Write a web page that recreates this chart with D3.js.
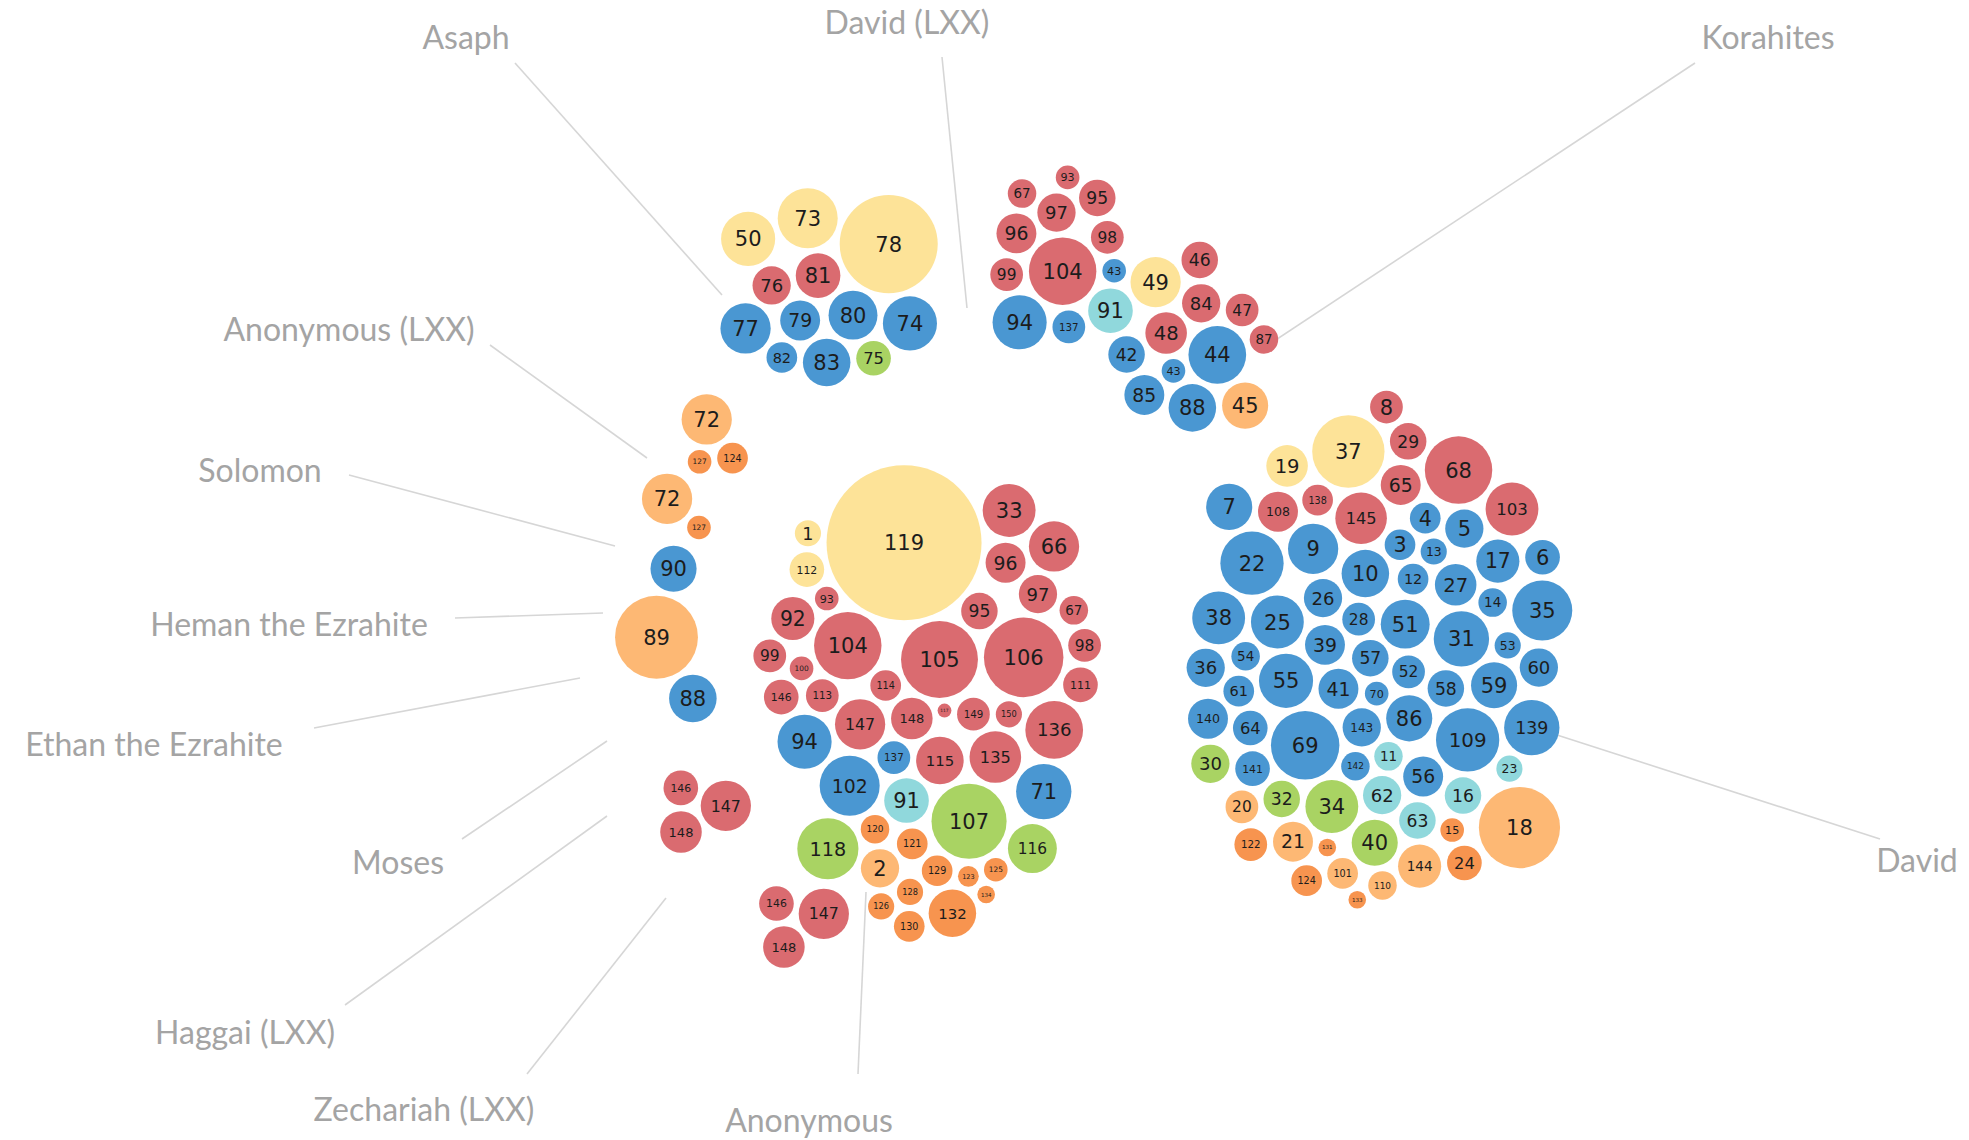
<!DOCTYPE html>
<html>
<head>
<meta charset="utf-8">
<script src="https://cdnjs.cloudflare.com/ajax/libs/d3/7.8.5/d3.min.js"></script>
<style>
  body { margin: 0; background: #fff; }
  .label { font-family: Lato, "Open Sans", sans-serif; fill: #a4a4a4; font-size: 32px; }
  .leader { stroke: #d6d6d6; stroke-width: 1.6; fill: none; }
  .num { font-family: "DejaVu Sans", sans-serif; fill: #1c1c1c; text-anchor: middle; }
</style>
</head>
<body>
<svg id="chart"></svg>
<script>
var width = 1969,
    height = 1140;

// number of verses in each psalm (index 0 = Psalm 1)
var verses = [
   6, 12,  8,  8, 12, 10, 17,  9, 20, 18,
   7,  8,  6,  7,  5, 11, 15, 50, 14,  9,
  13, 31,  6, 10, 22, 12, 14,  9, 11, 12,
  24, 11, 22, 22, 28, 12, 40, 22, 13, 17,
  13, 11,  5, 26, 17, 11,  9, 14, 20, 23,
  19,  9,  6,  7, 23, 13, 11, 11, 17, 12,
   8, 12, 11, 10, 13, 20,  7, 35, 36,  5,
  24, 20, 28, 23, 10, 12, 20, 72, 13, 19,
  16,  8, 18, 12, 13, 17,  7, 18, 52, 17,
  16, 15,  5, 23, 11, 13, 12,  9,  9,  5,
   8, 28, 22, 35, 45, 48, 43, 13, 31,  7,
  10, 10,  9,  8, 18, 19,  2, 29, 176, 7,
   8,  9,  4,  8,  5,  6,  5,  6,  8,  8,
   3, 18,  3,  3, 21, 26,  9,  8, 24, 13,
  10,  7, 12, 15, 21, 10, 20, 14,  9,  6
];

// psalm type
var hymn = [8, 29, 33, 46, 47, 48, 65, 66, 67, 68, 76, 81, 84, 87, 92, 93, 95, 96, 97, 98, 99, 100,
            103, 104, 105, 106, 108, 111, 113, 114, 115, 117, 135, 136, 138, 145, 146, 147, 148, 149, 150];
var lament = [3, 4, 5, 6, 7, 9, 10, 12, 13, 14, 17, 22, 25, 26, 27, 28, 31, 35, 36, 38, 39, 41, 42, 43, 44,
              51, 52, 53, 54, 55, 56, 57, 58, 59, 60, 61, 64, 69, 70, 71, 74, 77, 79, 80, 82, 83, 85, 86, 88,
              90, 94, 102, 109, 137, 139, 140, 141, 142, 143];
var wisdom = [1, 19, 37, 49, 50, 73, 78, 112, 119];
var thanksgiving = [30, 32, 34, 40, 75, 107, 116, 118];
var royal = [2, 18, 20, 21, 45, 72, 89, 101, 110, 144];
var liturgy = [15, 24, 120, 121, 122, 123, 124, 125, 126, 127, 128, 129, 130, 131, 132, 133, 134];
var trust = [11, 16, 23, 62, 63, 91];

// psalms by attributed author
var asaph = [50, 73, 74, 75, 76, 77, 78, 79, 80, 81, 82, 83];
var davidLxx = [43, 67, 91, 93, 94, 95, 96, 97, 98, 99, 104, 137];
var korahites = [42, 43, 44, 45, 46, 47, 48, 49, 84, 85, 87, 88];
var david = [3, 4, 5, 6, 7, 8, 9, 10, 11, 12, 13, 14, 15, 16, 17, 18, 19, 20, 21, 22, 23, 24, 25, 26, 27,
             28, 29, 30, 31, 32, 34, 35, 36, 37, 38, 39, 40, 41, 51, 52, 53, 54, 55, 56, 57, 58, 59, 60,
             61, 62, 63, 64, 65, 68, 69, 70, 86, 101, 103, 108, 109, 110, 122, 124, 131, 133, 138, 139,
             140, 141, 142, 143, 144, 145];
var anonymous = [1, 2, 33, 66, 67, 71, 91, 92, 93, 94, 95, 96, 97, 98, 99, 100, 102, 104, 105, 106, 107,
                 111, 112, 113, 114, 115, 116, 117, 118, 119, 120, 121, 123, 125, 126, 128, 129, 130, 132,
                 134, 135, 136, 137, 146, 147, 148, 149, 150];
var anonymousLxx = [72, 124, 127];
var solomon = [72, 127];
var moses = [90];
var ethan = [89];
var heman = [88];
var haggaiLxx = [146, 147, 148];
var zechariahLxx = [146, 147, 148];

var types = [
  {name: "wisdom", list: wisdom, color: "#fde398", rank: 0},
  {name: "hymn", list: hymn, color: "#da6b70", rank: 1},
  {name: "lament", list: lament, color: "#4a97d2", rank: 1.4},
  {name: "thanksgiving", list: thanksgiving, color: "#a9d363", rank: 3},
  {name: "trust", list: trust, color: "#90d8dc", rank: 3},
  {name: "royal", list: royal, color: "#fdb874", rank: 3.4},
  {name: "liturgy", list: liturgy, color: "#f7944f", rank: 4}
];

// group layout: focus of the cluster, pull (x, y), label position and leader line
var groups = [
  {name: "Asaph", psalms: asaph, focus: [833, 284], kx: 0.09, ky: 0.12, label: [466, 38], line: [[515, 63], [722, 295]]},
  {name: "David (LXX)", psalms: davidLxx, focus: [1062, 266], kx: 0.12, ky: 0.08, label: [907, 23], line: [[942, 57], [967, 308]]},
  {name: "Korahites", psalms: korahites, focus: [1190, 344], kx: 0.1, ky: 0.11, label: [1768, 38], line: [[1695, 63], [1268, 345]]},
  {name: "David", psalms: david, focus: [1380, 660], kx: 0.11, ky: 0.06, label: [1917, 861], line: [[1880, 839], [1557, 735]]},
  {name: "Anonymous", psalms: anonymous, focus: [930, 690], kx: 0.11, ky: 0.055, label: [809, 1121], line: [[858, 1074], [866, 892]]},
  {name: "Anonymous (LXX)", psalms: anonymousLxx, focus: [712, 436], kx: 0.3, ky: 0.3, label: [349, 330], line: [[490, 345], [647, 458]]},
  {name: "Solomon", psalms: solomon, focus: [674, 505], kx: 0.3, ky: 0.3, label: [260, 471], line: [[349, 475], [615, 546]]},
  {name: "Moses", psalms: moses, focus: [673, 571], kx: 0.4, ky: 0.4, label: [398, 863], line: [[462, 839], [607, 741]]},
  {name: "Ethan the Ezrahite", psalms: ethan, focus: [657, 637], kx: 0.4, ky: 0.4, label: [154, 745], line: [[314, 728], [580, 678]]},
  {name: "Heman the Ezrahite", psalms: heman, focus: [692, 697], kx: 0.4, ky: 0.4, label: [289, 625], line: [[455, 618], [603, 613]]},
  {name: "Haggai (LXX)", psalms: haggaiLxx, focus: [701, 810], kx: 0.3, ky: 0.3, label: [245, 1033], line: [[345, 1005], [607, 816]]},
  {name: "Zechariah (LXX)", psalms: zechariahLxx, focus: [800, 922], kx: 0.5, ky: 0.5, label: [424, 1110], line: [[527, 1074], [666, 898]]}
];

var typeOf = {};
types.forEach(function(t) { t.list.forEach(function(p) { typeOf[p] = t; }); });

var radius = d3.scaleSqrt()
    .domain([0, d3.max(verses)])
    .range([0, 79]);

var svg = d3.select("#chart")
    .attr("width", width)
    .attr("height", height);

svg.append("rect")
    .attr("width", width)
    .attr("height", height)
    .attr("fill", "#fff");

// nodes, started on a grid sorted by psalm type so the types settle in bands
var nodes = [];
groups.forEach(function(g) {
  var list = g.psalms.map(function(p) {
    return {psalm: p, group: g, type: typeOf[p], r: radius(verses[p - 1])};
  });
  list.sort(function(a, b) { return a.type.rank - b.type.rank || a.psalm - b.psalm; });
  var cols = Math.max(1, Math.round(Math.sqrt(list.length) * 0.85)),
      step = 2 * d3.mean(list, function(d) { return d.r; }),
      rows = Math.ceil(list.length / cols);
  list.forEach(function(d, i) {
    var c = i % cols, row = Math.floor(i / cols);
    d.x = g.focus[0] + (c - (cols - 1) / 2) * step + (row % 2 ? step / 4 : -step / 4);
    d.y = g.focus[1] + (row - (rows - 1) / 2) * step;
    nodes.push(d);
  });
});

var sim = d3.forceSimulation(nodes)
    .alphaDecay(0.01)
    .force("x", d3.forceX(function(d) { return d.group.focus[0]; }).strength(function(d) { return d.group.kx; }))
    .force("y", d3.forceY(function(d) { return d.group.focus[1]; }).strength(function(d) { return d.group.ky; }))
    .force("collide", d3.forceCollide(function(d) { return d.r + 1.5; }).strength(0.9).iterations(3))
    .stop();

for (var i = 0; i < 700; ++i) sim.tick();

// leader lines and labels
svg.append("g").selectAll("line")
    .data(groups)
  .enter().append("line")
    .attr("class", "leader")
    .attr("x1", function(d) { return d.line[0][0]; })
    .attr("y1", function(d) { return d.line[0][1]; })
    .attr("x2", function(d) { return d.line[1][0]; })
    .attr("y2", function(d) { return d.line[1][1]; });

svg.append("g").selectAll("text")
    .data(groups)
  .enter().append("text")
    .attr("class", "label")
    .attr("x", function(d) { return d.label[0]; })
    .attr("y", function(d) { return d.label[1] + 11; })
    .attr("text-anchor", "middle")
    .text(function(d) { return d.name; });

var node = svg.append("g").selectAll("g")
    .data(nodes)
  .enter().append("g")
    .attr("transform", function(d) { return "translate(" + d.x + "," + d.y + ")"; });

node.append("circle")
    .attr("r", function(d) { return Math.max(d.r - 1.5, 2); })
    .style("fill", function(d) { return d.type.color; });

node.append("text")
    .attr("class", "num")
    .attr("dy", "0.36em")
    .style("font-size", function(d) {
      var n = String(d.psalm).length;
      return Math.min(21, 2 * (d.r - 1.5) * 0.6 / (0.636 * Math.max(n, 1.4))) + "px";
    })
    .text(function(d) { return d.psalm; });
</script>
</body>
</html>
